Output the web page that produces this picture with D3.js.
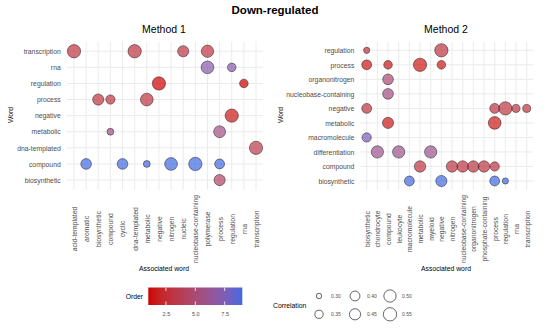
<!DOCTYPE html>
<html>
<head>
<meta charset="utf-8">
<script src="https://cdn.jsdelivr.net/npm/d3@7"></script>
<style>
  body { margin: 0; background: #fff; }
  svg { font-family: "Liberation Sans", Arial, sans-serif; }
</style>
</head>
<body>
<script>
// ---- data ----
let m1Words = ["transcription", "rna", "regulation", "process", "negative", "metabolic", "dna-templated", "compound", "biosynthetic"]
let m1Assoc = ["acid-templated", "aromatic", "biosynthetic", "compound", "cyclic", "dna-templated", "metabolic", "negative", "nitrogen", "nucleic", "nucleobase-containing", "polymerase", "process", "regulation", "rna", "transcription"]
let m1PointWord = ["transcription", "transcription", "transcription", "transcription", "rna", "rna", "regulation", "regulation", "process", "process", "process", "negative", "metabolic", "metabolic", "dna-templated", "compound", "compound", "compound", "compound", "compound", "compound", "biosynthetic"]
let m1PointAssoc = ["acid-templated", "dna-templated", "nucleic", "polymerase", "polymerase", "regulation", "negative", "rna", "biosynthetic", "compound", "metabolic", "regulation", "compound", "process", "transcription", "aromatic", "cyclic", "metabolic", "nitrogen", "nucleobase-containing", "process", "process"]
let m1Corr = [0.55, 0.55, 0.45, 0.50, 0.52, 0.36, 0.55, 0.36, 0.45, 0.38, 0.52, 0.55, 0.32, 0.48, 0.55, 0.43, 0.43, 0.32, 0.52, 0.55, 0.40, 0.45]
let m1Order = [3, 3, 3, 3, 7, 7, 1, 1, 3, 3, 3, 1.5, 5.5, 5.5, 3.5, 9, 9, 9, 9, 9, 9, 4.5]

let m2Words = ["regulation", "process", "organonitrogen", "nucleobase-containing", "negative", "metabolic", "macromolecule", "differentiation", "compound", "biosynthetic"]
let m2Assoc = ["biosynthetic", "chondrocyte", "compound", "leukocyte", "macromolecule", "metabolic", "myeloid", "negative", "nitrogen", "nucleobase-containing", "organonitrogen", "phosphate-containing", "process", "regulation", "rna", "transcription"]
let m2PointWord = ["regulation", "regulation", "process", "process", "process", "process", "organonitrogen", "nucleobase-containing", "negative", "negative", "negative", "negative", "negative", "metabolic", "metabolic", "macromolecule", "differentiation", "differentiation", "differentiation", "compound", "compound", "compound", "compound", "compound", "compound", "biosynthetic", "biosynthetic", "biosynthetic", "biosynthetic"]
let m2PointAssoc = ["biosynthetic", "negative", "biosynthetic", "compound", "metabolic", "negative", "compound", "compound", "biosynthetic", "process", "regulation", "rna", "transcription", "compound", "process", "biosynthetic", "chondrocyte", "leukocyte", "myeloid", "metabolic", "nitrogen", "nucleobase-containing", "organonitrogen", "phosphate-containing", "process", "macromolecule", "negative", "process", "regulation"]
let m2Corr = [0.31, 0.55, 0.40, 0.36, 0.55, 0.36, 0.43, 0.43, 0.40, 0.40, 0.55, 0.345, 0.345, 0.45, 0.52, 0.38, 0.50, 0.50, 0.50, 0.46, 0.46, 0.46, 0.46, 0.46, 0.38, 0.40, 0.45, 0.40, 0.31]
let m2Order = [3, 3, 1.5, 1.5, 1.5, 1.5, 5, 5.5, 3, 3, 3, 3, 3, 1.5, 1.5, 7.5, 6, 6, 6, 3, 3, 3, 3, 3, 3, 9, 9, 9, 9]

let orderTicks = [2.5, 5.0, 7.5]
let corrBreaks = [0.30, 0.35, 0.40, 0.45, 0.50, 0.55]

// ---- setup ----
let width = 550
let height = 334

let svg = d3.select("body")
            .append("svg")
            .attr("width", width)
            .attr("height", height)

let colorScale = d3.scaleLinear()
                   .domain([1, 9])
                   .range(["#cd0000", "#4169e1"])
                   .interpolate(d3.interpolateLab)

// area-style size scale (like ggplot scale_size)
let sizeScale = (v) => {
    let t = Math.max(0, (v - 0.29) / (0.56 - 0.29))
    return 1.75 + 5 * Math.sqrt(t)
}

svg.append("text")
   .attr("x", 275)
   .attr("y", 14)
   .attr("text-anchor", "middle")
   .style("font-weight", "bold")
   .style("font-size", "11.5px")
   .text("Down-regulated")

let drawPanel = (cfg) => {
    let xScale = d3.scalePoint()
                   .domain(cfg.assoc)
                   .range([cfg.left, cfg.right])
                   .padding(0.6)
    let yScale = d3.scalePoint()
                   .domain(cfg.words)
                   .range([41.6, 189.7])
                   .padding(0.6)

    let g = svg.append("g")

    // grid
    g.selectAll(".vgrid")
     .data(cfg.assoc)
     .enter()
     .append("line")
     .attr("x1", (d) => xScale(d))
     .attr("x2", (d) => xScale(d))
     .attr("y1", 41.6)
     .attr("y2", 189.7)
     .attr("stroke", "#ebebeb")
     .attr("stroke-width", 1)
    g.selectAll(".hgrid")
     .data(cfg.words)
     .enter()
     .append("line")
     .attr("x1", cfg.left)
     .attr("x2", cfg.right)
     .attr("y1", (d) => yScale(d))
     .attr("y2", (d) => yScale(d))
     .attr("stroke", "#ebebeb")
     .attr("stroke-width", 1)

    // axes
    let yAxis = g.append("g")
                 .attr("transform", "translate(" + (cfg.left - 2) + ",0)")
                 .call(d3.axisLeft(yScale).tickSize(0).tickPadding(4))
    yAxis.select(".domain").remove()
    yAxis.selectAll("text")
         .style("font-size", "6.8px")
         .attr("fill", "#4d4d4d")
         .style("font-family", "Liberation Sans, Arial, sans-serif")

    let xAxis = g.append("g")
                 .attr("transform", "translate(0,229)")
                 .call(d3.axisBottom(xScale).tickSize(0))
    xAxis.select(".domain").remove()
    xAxis.selectAll("text")
         .attr("y", 0)
         .attr("dy", "0.35em")
         .attr("transform", "rotate(-90)")
         .style("text-anchor", "middle")
         .style("font-size", "6.8px")
         .attr("fill", "#4d4d4d")
         .style("font-family", "Liberation Sans, Arial, sans-serif")

    // titles
    g.append("text")
     .attr("x", cfg.titleX)
     .attr("y", 33)
     .attr("text-anchor", "middle")
     .style("font-size", "10.5px")
     .text(cfg.title)
    g.append("text")
     .attr("x", cfg.titleX)
     .attr("y", 271)
     .attr("text-anchor", "middle")
     .style("font-size", "6.8px")
     .text("Associated word")
    g.append("text")
     .attr("transform", "translate(" + (cfg.wordX) + ",115) rotate(-90)")
     .attr("text-anchor", "middle")
     .style("font-size", "6.8px")
     .text("Word")

    // bubbles
    let idx = d3.range(cfg.pw.length)
    g.selectAll("circle")
     .data(idx)
     .enter()
     .append("circle")
     .attr("cx", (i) => xScale(cfg.pa[i]))
     .attr("cy", (i) => yScale(cfg.pw[i]))
     .attr("r", (i) => sizeScale(cfg.corr[i]))
     .attr("fill", (i) => colorScale(cfg.order[i]))
     .attr("fill-opacity", 0.7)
     .attr("stroke", "#000")
     .attr("stroke-opacity", 0.7)
     .attr("stroke-width", 0.6)
}

drawPanel({
    words: m1Words, assoc: m1Assoc,
    pw: m1PointWord, pa: m1PointAssoc, corr: m1Corr, order: m1Order,
    left: 66.7, right: 263.3, titleX: 164, wordX: 13, title: "Method 1"
})
drawPanel({
    words: m2Words, assoc: m2Assoc,
    pw: m2PointWord, pa: m2PointAssoc, corr: m2Corr, order: m2Order,
    left: 360.3, right: 533.1, titleX: 446, wordX: 283, title: "Method 2"
})

// ---- colour legend ----
let barX = d3.scaleLinear().domain([1, 9]).range([148.3, 242.3])
let defs = svg.append("defs")
let grad = defs.append("linearGradient").attr("id", "ordergrad")
d3.range(0, 1.0001, 0.05).forEach((t) => {
    grad.append("stop")
        .attr("offset", (t * 100) + "%")
        .attr("stop-color", colorScale(1 + 8 * t))
})
svg.append("rect")
   .attr("x", barX(1))
   .attr("y", 287.5)
   .attr("width", barX(9) - barX(1))
   .attr("height", 17.5)
   .attr("fill", "url(#ordergrad)")
orderTicks.forEach((v) => {
    svg.append("line").attr("x1", barX(v)).attr("x2", barX(v))
       .attr("y1", 287.5).attr("y2", 291).attr("stroke", "#fff").attr("stroke-width", 0.8)
    svg.append("line").attr("x1", barX(v)).attr("x2", barX(v))
       .attr("y1", 301.5).attr("y2", 305).attr("stroke", "#fff").attr("stroke-width", 0.8)
})
let barAxis = svg.append("g")
                 .attr("transform", "translate(0,309)")
                 .call(d3.axisBottom(barX).tickValues(orderTicks).tickFormat(d3.format(".1f")).tickSize(0))
barAxis.select(".domain").remove()
barAxis.selectAll("text")
       .style("font-size", "5.5px")
       .attr("fill", "#4d4d4d")
       .style("font-family", "Liberation Sans, Arial, sans-serif")
svg.append("text")
   .attr("x", 143)
   .attr("y", 298.5)
   .attr("text-anchor", "end")
   .style("font-size", "6.8px")
   .text("Order")

// ---- size legend ----
svg.append("text")
   .attr("x", 273)
   .attr("y", 308)
   .style("font-size", "6.8px")
   .text("Correlation")
let colX = [319, 355, 390]
let rowY = [296, 314.3]
corrBreaks.forEach((v, i) => {
    let cx = colX[Math.floor(i / 2)]
    let cy = rowY[i % 2]
    svg.append("circle")
       .attr("cx", cx)
       .attr("cy", cy)
       .attr("r", sizeScale(v))
       .attr("fill", "none")
       .attr("stroke", "#000")
       .attr("stroke-width", 0.6)
    svg.append("text")
       .attr("x", cx + 12)
       .attr("y", cy)
       .attr("dy", "0.35em")
       .style("font-size", "5px")
       .attr("fill", "#4d4d4d")
       .text(d3.format(".2f")(v))
})
</script>
</body>
</html>
